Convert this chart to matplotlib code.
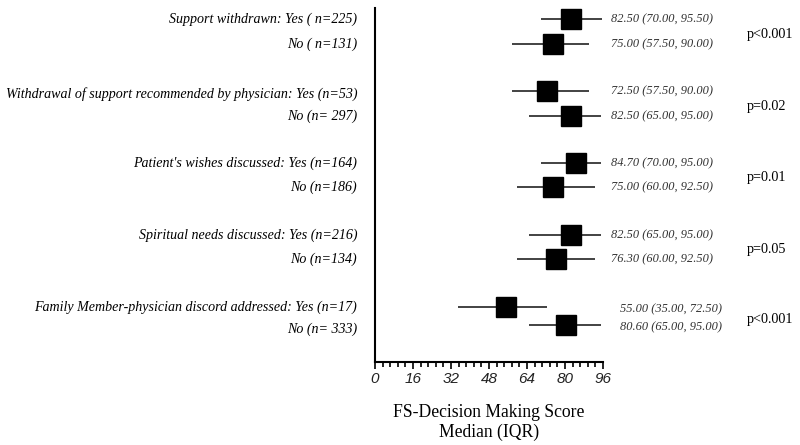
import matplotlib
matplotlib.use("Agg")
import matplotlib.pyplot as plt
from matplotlib.ticker import MultipleLocator, AutoMinorLocator

# data
group_labels = [
    ("Support withdrawn: Yes ( n=225)", "No ( n=131)"),
    ("Withdrawal of support recommended by physician: Yes (n=53)", "No (n= 297)"),
    ("Patient's wishes discussed: Yes (n=164)", "No (n=186)"),
    ("Spiritual needs discussed: Yes (n=216)", "No (n=134)"),
    ("Family Member-physician discord addressed: Yes (n=17)", "No (n= 333)"),
]
yes_median = [82.50, 72.50, 84.70, 82.50, 55.00]
yes_q1 = [70.00, 57.50, 70.00, 65.00, 35.00]
yes_q3 = [95.50, 90.00, 95.00, 95.00, 72.50]
no_median = [75.00, 82.50, 75.00, 76.30, 80.60]
no_q1 = [57.50, 65.00, 60.00, 60.00, 65.00]
no_q3 = [90.00, 95.00, 92.50, 92.50, 95.00]
p_values = ["p<0.001", "p=0.02", "p=0.01", "p=0.05", "p<0.001"]

serif = "Liberation Serif"
sans = "Liberation Sans"

fig = plt.figure(figsize=(8, 4.45), dpi=100)
ax = fig.add_axes([375 / 800, 1 - 362 / 445, 228 / 800, 354 / 445])

# row layout (pixel-like units, top to bottom)
group_gap = 72
pair_gap = [25, 25, 24, 24, 18]
first_row = 19

for i in range(len(group_labels)):
    y_yes = first_row + group_gap * i
    y_no = y_yes + pair_gap[i]
    for y, m, lo, hi in [(y_yes, yes_median[i], yes_q1[i], yes_q3[i]),
                         (y_no, no_median[i], no_q1[i], no_q3[i])]:
        ax.plot([lo, hi], [y, y], color="#222222", lw=1.2, solid_capstyle="butt")
        ax.plot(m, y, marker="s", ms=14.5, color="black", mec="black")
        tx = 99.5 if i < 4 else 103
        ty = y + (2 if i == 4 else 0)
        ax.text(tx, ty, "%.2f (%.2f, %.2f)" % (m, lo, hi), fontsize=8.9,
                style="italic", family=serif, color="#333333",
                va="center", ha="left", clip_on=False)
    ax.text(-7.5, y_yes + (3 if i == 1 else 0), group_labels[i][0], fontsize=10.1,
            style="italic", family=serif, ha="right", va="center")
    ax.text(-7.5, y_no + (4 if i == 4 else 0), group_labels[i][1], fontsize=10.1,
            style="italic", family=serif, ha="right", va="center")
    ax.text(156.5, (y_yes + y_no) / 2 + 3, p_values[i], fontsize=10.2,
            family=serif, ha="left", va="center")

ax.set_xlim(0, 96)
ax.set_ylim(354 + 8, 8)

ax.spines["top"].set_visible(False)
ax.spines["right"].set_visible(False)
ax.spines["left"].set_linewidth(1.5)
ax.spines["bottom"].set_linewidth(1.5)
ax.set_yticks([])
ax.xaxis.set_major_locator(MultipleLocator(16))
ax.xaxis.set_minor_locator(AutoMinorLocator(5))
ax.tick_params(axis="x", which="major", length=5, width=1.2, pad=2)
ax.tick_params(axis="x", which="minor", length=3.5, width=1.2)
for lab in ax.get_xticklabels():
    lab.set_fontfamily(sans)
    lab.set_fontstyle("italic")
    lab.set_fontsize(11)
    lab.set_color("#222222")

ax.set_xlabel("FS-Decision Making Score\nMedian (IQR)", family=serif,
              fontsize=12.7, labelpad=13, linespacing=1.2)

fig.savefig("out.png", dpi=100)
